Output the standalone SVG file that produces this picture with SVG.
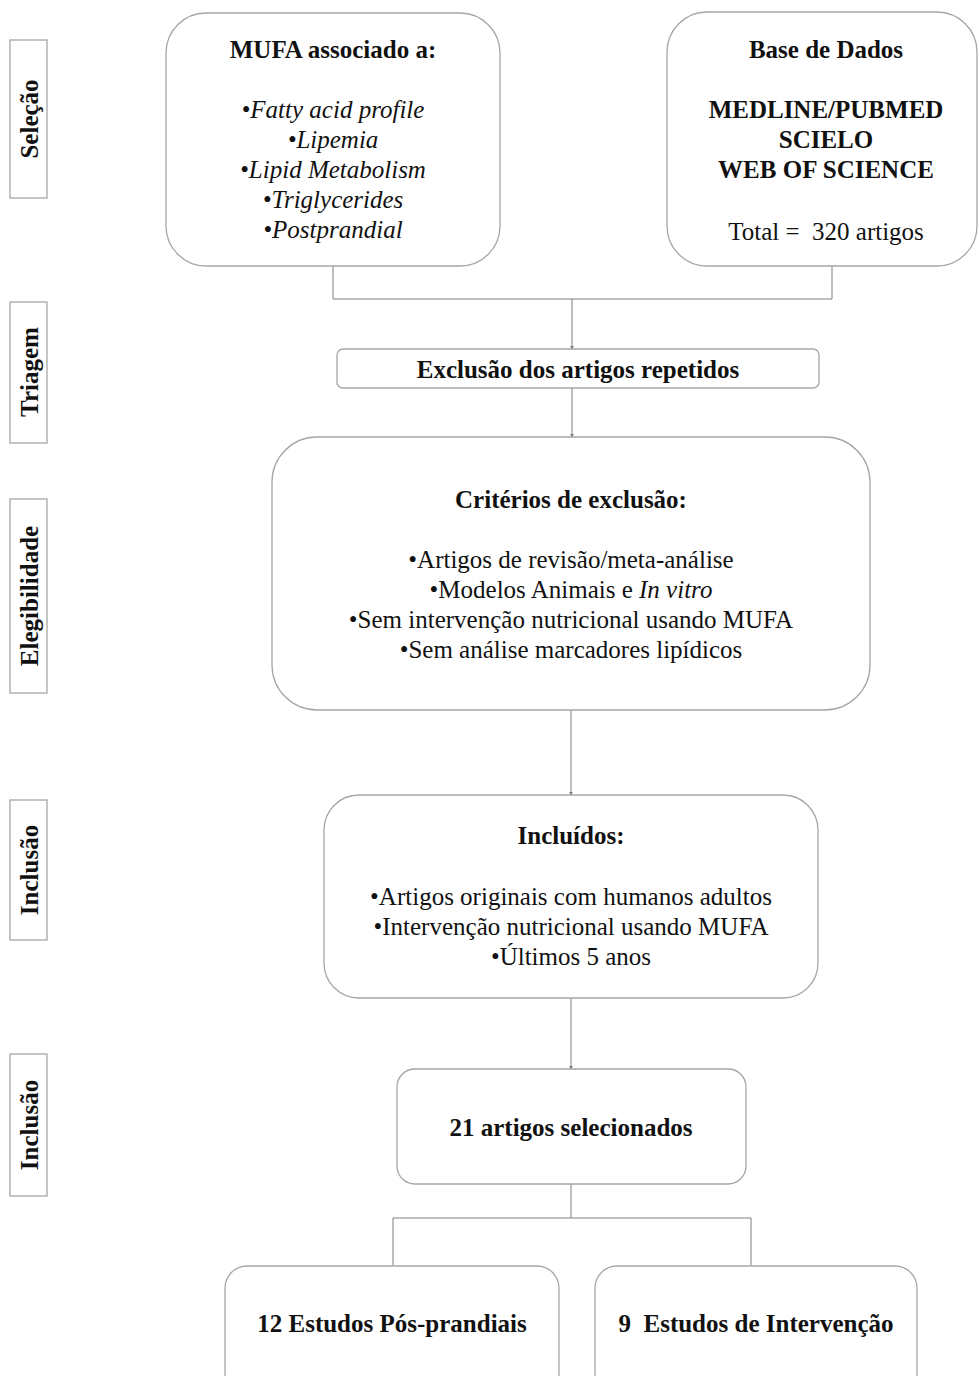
<svg xmlns="http://www.w3.org/2000/svg" width="979" height="1376" viewBox="0 0 979 1376">
<style>
.box{fill:#fff;stroke:#a6a6a6;stroke-width:1.3}
.side{fill:#fff;stroke:#a6a6a6;stroke-width:1.3}
.t{font-family:"Liberation Serif","Times New Roman",serif;font-size:25px;fill:#111;text-anchor:middle}
.b{font-weight:bold}
.i{font-style:italic}
.c{fill:none;stroke:#7f7f7f;stroke-width:1}
</style>
<defs>
<marker id="arr" viewBox="0 0 6 6" refX="5" refY="3" markerWidth="4" markerHeight="4" orient="auto">
<path d="M0,0 L6,3 L0,6 z" fill="#7f7f7f"/>
</marker>
</defs>
<rect width="979" height="1376" fill="#fff"/>
<g id="side-labels">
<g id="side-selecao"><rect class="side" x="10" y="40" width="37" height="158"/><text class="t b" transform="translate(38,119) rotate(-90)">Seleção</text></g>
<g id="side-triagem"><rect class="side" x="10" y="302" width="37" height="141"/><text class="t b" transform="translate(38,372) rotate(-90)">Triagem</text></g>
<g id="side-elegibilidade"><rect class="side" x="10" y="499" width="37" height="194"/><text class="t b" transform="translate(38,596) rotate(-90)">Elegibilidade</text></g>
<g id="side-inclusao1"><rect class="side" x="10" y="800" width="37" height="140"/><text class="t b" transform="translate(38,870) rotate(-90)">Inclusão</text></g>
<g id="side-inclusao2"><rect class="side" x="10" y="1054" width="37" height="142"/><text class="t b" transform="translate(38,1125) rotate(-90)">Inclusão</text></g>
</g>
<g id="connectors">
<polyline class="c" points="333,266 333,299 832,299 832,266"/>
<line class="c" x1="572" y1="299" x2="572" y2="349" marker-end="url(#arr)"/>
<line class="c" x1="572" y1="388" x2="572" y2="437" marker-end="url(#arr)"/>
<line class="c" x1="571" y1="710" x2="571" y2="795" marker-end="url(#arr)"/>
<line class="c" x1="571" y1="998" x2="571" y2="1069" marker-end="url(#arr)"/>
<line class="c" x1="571" y1="1184" x2="571" y2="1218"/>
<polyline class="c" points="393,1265 393,1218 751,1218 751,1265"/>
</g>
<g id="node-mufa">
<rect class="box" x="166" y="13" width="334" height="253" rx="40"/>
<text class="t b" x="333" y="58">MUFA associado a:</text>
<text class="t i" x="333" y="118">•Fatty acid profile</text>
<text class="t i" x="333" y="148">•Lipemia</text>
<text class="t i" x="333" y="178">•Lipid Metabolism</text>
<text class="t i" x="333" y="208">•Triglycerides</text>
<text class="t i" x="333" y="238">•Postprandial</text>
</g>
<g id="node-base">
<rect class="box" x="667" y="12" width="310" height="254" rx="40"/>
<text class="t b" x="826" y="58">Base de Dados</text>
<text class="t b" x="826" y="118">MEDLINE/PUBMED</text>
<text class="t b" x="826" y="148">SCIELO</text>
<text class="t b" x="826" y="178">WEB OF SCIENCE</text>
<text class="t" x="826" y="240" xml:space="preserve">Total =  320 artigos</text>
</g>
<g id="node-exclusao">
<rect class="box" x="337" y="349" width="482" height="39" rx="6"/>
<text class="t b" x="578" y="378">Exclusão dos artigos repetidos</text>
</g>
<g id="node-criterios">
<rect class="box" x="272" y="437" width="598" height="273" rx="45"/>
<text class="t b" x="571" y="508">Critérios de exclusão:</text>
<text class="t" x="571" y="568">•Artigos de revisão/meta-análise</text>
<text class="t" x="571" y="598">•Modelos Animais e <tspan class="i">In vitro</tspan></text>
<text class="t" x="571" y="628">•Sem intervenção nutricional usando MUFA</text>
<text class="t" x="571" y="658">•Sem análise marcadores lipídicos</text>
</g>
<g id="node-incluidos">
<rect class="box" x="324" y="795" width="494" height="203" rx="35"/>
<text class="t b" x="571" y="844">Incluídos:</text>
<text class="t" x="571" y="905">•Artigos originais com humanos adultos</text>
<text class="t" x="571" y="935">•Intervenção nutricional usando MUFA</text>
<text class="t" x="571" y="965">•Últimos 5 anos</text>
</g>
<g id="node-21">
<rect class="box" x="397" y="1069" width="349" height="115" rx="18"/>
<text class="t b" x="571" y="1136">21 artigos selecionados</text>
</g>
<g id="node-12">
<rect class="box" x="225" y="1266" width="334" height="130" rx="22"/>
<text class="t b" x="392" y="1332">12 Estudos Pós-prandiais</text>
</g>
<g id="node-9">
<rect class="box" x="595" y="1266" width="322" height="130" rx="22"/>
<text class="t b" x="756" y="1332" xml:space="preserve">9  Estudos de Intervenção</text>
</g>
</svg>
